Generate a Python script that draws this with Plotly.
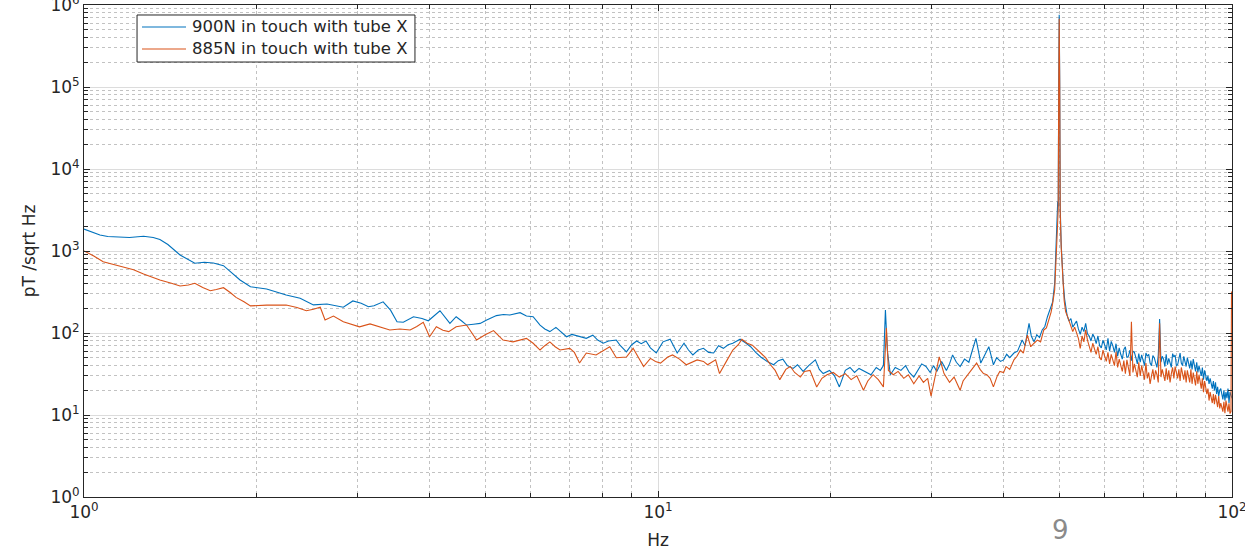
import plotly.graph_objects as go

# ---- 900N in touch with tube X: amplitude spectral density below 51.6 Hz ----
freq_900_lo = [
    1.00, 1.03, 1.066, 1.10, 1.15, 1.20, 1.27, 1.32, 1.356, 1.40, 1.47, 1.52, 1.56, 1.62, 1.68,
    1.75, 1.80, 1.87, 1.95, 2.08, 2.15, 2.25, 2.38, 2.51, 2.65, 2.75, 2.83, 2.94, 3.04, 3.13,
    3.20, 3.32, 3.42, 3.51, 3.60, 3.75, 3.88, 3.98, 4.08, 4.17, 4.34, 4.45, 4.55, 4.64, 4.77,
    4.90, 5.03, 5.23, 5.38, 5.52, 5.75, 5.90, 6.06, 6.23, 6.35, 6.48, 6.64, 6.80, 6.93, 7.08,
    7.22, 7.38, 7.50, 7.70, 7.85, 8.03, 8.20, 8.46, 8.60, 8.81, 9.00, 9.18, 9.35, 9.53, 9.70,
    9.93, 10.2, 10.5, 10.8, 11.1, 11.3, 11.5, 11.75, 12.0, 12.25, 12.5, 12.75, 13.0, 13.25, 13.5,
    13.7, 13.9, 14.2, 14.5, 14.8, 15.1, 15.5, 15.9, 16.2, 16.5, 16.8, 17.2, 17.5, 17.9, 18.3,
    18.8, 19.1, 19.4, 19.9, 20.3, 20.7, 21.2, 21.6, 22.0, 22.4, 22.9, 23.5, 24.0, 24.4, 24.7,
    24.9, 25.1, 25.4, 25.9, 26.5, 27.0, 27.4, 27.9, 28.4, 28.8, 29.3, 29.8, 30.2, 30.6, 31.2,
    31.8, 32.2, 32.6, 33.1, 33.6, 34.2, 34.8, 35.3, 35.8, 36.2, 36.5, 37.0, 37.7, 38.0, 38.4,
    38.9, 39.5, 40.0, 40.5, 41.0, 41.7, 42.3, 43.1, 43.6, 44.0, 44.3, 44.7, 45.2, 45.7, 46.2,
    46.7, 47.2, 47.7, 48.2, 48.7, 49.1, 49.5, 49.7, 49.8, 49.9, 50.0, 50.1, 50.2, 50.4, 50.6,
    50.8, 51.1, 51.5,
]
psd_900_lo = [
    1850, 1700, 1570, 1500, 1480, 1460, 1515, 1460, 1380, 1200, 895, 790, 708, 728, 715,
    662, 560, 443, 367, 344, 320, 290, 265, 220, 226, 215, 206, 246, 230, 209,
    215, 240, 190, 137, 135, 158, 150, 141, 165, 187, 131, 158, 140, 125, 128,
    131, 144, 163, 168, 166, 177, 161, 158, 125, 112, 104, 117, 100, 90, 96,
    93, 89, 86, 94, 82, 75, 80, 82, 70, 59, 72, 80, 74, 80, 66,
    57, 78, 84, 57, 75, 62, 54, 62, 65, 58, 57, 70, 65, 72, 75,
    80, 84, 76, 68, 58, 51, 45, 41, 46, 48, 40, 37, 41, 34, 40,
    47, 36, 32, 35, 30, 22, 35, 38, 33, 37, 34, 31, 38, 35, 40,
    191, 60, 31, 38, 35, 40, 33, 29, 36, 42, 39, 33, 40, 34, 45,
    35, 42, 54, 44, 39, 48, 44, 62, 86, 58, 43, 52, 68, 55, 41,
    50, 45, 47, 55, 50, 57, 60, 82, 70, 95, 131, 92, 78, 95, 88,
    109, 120, 158, 190, 240, 404, 1500, 4000, 3500, 110000, 760000, 120000, 3500, 1200, 600,
    422, 260, 174,
]

# ---- 885N in touch with tube X: amplitude spectral density below 51.6 Hz ----
freq_885_lo = [
    1.00, 1.04, 1.08, 1.12, 1.17, 1.22, 1.27, 1.31, 1.356, 1.42, 1.47, 1.52, 1.56, 1.61, 1.66,
    1.70, 1.75, 1.80, 1.84, 1.90, 1.95, 2.08, 2.25, 2.35, 2.44, 2.51, 2.58, 2.63, 2.72, 2.83,
    2.92, 3.02, 3.15, 3.27, 3.41, 3.55, 3.70, 3.80, 3.90, 4.00, 4.11, 4.22, 4.32, 4.45, 4.64,
    4.74, 4.83, 5.00, 5.17, 5.28, 5.37, 5.59, 5.75, 5.90, 6.06, 6.23, 6.35, 6.48, 6.62, 6.75,
    7.02, 7.15, 7.30, 7.50, 7.80, 8.00, 8.24, 8.46, 8.81, 9.05, 9.25, 9.44, 9.70, 9.90, 10.1,
    10.4, 10.6, 10.9, 11.2, 11.5, 11.7, 12.0, 12.2, 12.6, 12.8, 13.2, 13.5, 13.8, 14.0, 14.3,
    14.6, 15.1, 15.4, 15.7, 16.0, 16.3, 16.7, 17.0, 17.3, 17.7, 18.0, 18.4, 18.9, 19.3, 19.7,
    20.2, 20.7, 21.2, 21.7, 22.2, 22.8, 23.2, 23.7, 24.2, 24.7, 25.0, 25.2, 25.7, 26.2, 26.8,
    27.3, 27.9, 28.5, 29.0, 29.5, 29.9, 30.4, 30.9, 31.5, 32.2, 32.8, 33.6, 34.0, 34.4, 35.0,
    35.9, 36.4, 36.9, 37.4, 37.9, 38.4, 39.0, 39.4, 40.0, 40.4, 41.0, 41.7, 42.2, 42.8, 43.3,
    44.0, 44.6, 45.2, 45.8, 46.4, 47.0, 47.5, 48.0, 48.4, 48.7, 49.1, 49.5, 49.7, 49.8, 49.9,
    50.0, 50.1, 50.2, 50.4, 50.6, 50.8, 51.0, 51.3,
]
psd_885_lo = [
    1000, 870, 740, 690, 645, 590, 525, 480, 443, 405, 374, 385, 404, 360, 328,
    340, 357, 310, 272, 240, 214, 219, 219, 205, 187, 195, 206, 144, 161, 137,
    128, 119, 129, 119, 109, 112, 109, 120, 135, 90, 119, 108, 104, 119, 125,
    100, 82, 95, 107, 92, 82, 78, 82, 86, 75, 62, 70, 78, 68, 62,
    65, 58, 43, 57, 54, 60, 68, 50, 51, 65, 50, 39, 49, 45, 43,
    51, 54, 48, 41, 44, 47, 45, 41, 47, 32, 47, 62, 72, 84, 75,
    71, 57, 50, 41, 35, 27, 36, 39, 33, 29, 34, 35, 22, 28, 31,
    33, 29, 32, 27, 30, 20, 26, 31, 27, 22, 115, 35, 31, 34, 28,
    31, 24, 30, 25, 28, 17, 30, 51, 32, 25, 29, 20, 26, 29, 33,
    43, 36, 32, 31, 28, 22, 30, 34, 33, 39, 36, 47, 52, 62, 57,
    94, 68, 75, 82, 78, 109, 115, 144, 180, 230, 335, 1200, 3000, 3200, 90000,
    680000, 100000, 3000, 1100, 550, 404, 250, 182,
]

# ---- shared frequency bins above the 50 Hz line ----
freq_hi = [
    51.6, 52.0, 52.4, 52.8, 53.2, 53.6, 54.0, 54.4, 54.8, 55.2,
    55.6, 56.0, 56.4, 56.8, 57.2, 57.6, 58.0, 58.4, 58.8, 59.2,
    59.6, 60.0, 60.4, 60.8, 61.2, 61.6, 62.0, 62.4, 62.8, 63.2,
    63.6, 64.0, 64.4, 64.8, 65.2, 65.6, 66.0, 66.4, 66.8, 67.2,
    67.6, 68.0, 68.4, 68.8, 69.2, 69.6, 70.0, 70.4, 70.8, 71.2,
    71.6, 72.0, 72.4, 72.8, 73.2, 73.6, 74.0, 74.4, 74.8, 75.2,
    75.6, 76.0, 76.4, 76.8, 77.2, 77.6, 78.0, 78.4, 78.8, 79.2,
    79.6, 80.0, 80.4, 80.8, 81.2, 81.6, 82.0, 82.4, 82.8, 83.2,
    83.6, 84.0, 84.4, 84.8, 85.2, 85.6, 86.0, 86.4, 86.8, 87.2,
    87.6, 88.0, 88.4, 88.8, 89.2, 89.6, 90.0, 90.4, 90.8, 91.2,
    91.6, 92.0, 92.4, 92.8, 93.2, 93.6, 94.0, 94.4, 94.8, 95.2,
    95.6, 96.0, 96.4, 96.8, 97.2, 97.6, 98.0, 98.4, 98.8, 99.2, 99.6,
]
psd_900_hi = [
    165, 140, 150, 118, 128, 140, 112, 96, 118, 104,
    131, 98, 92, 80, 97, 88, 74, 92, 70, 66,
    82, 72, 62, 86, 60, 79, 70, 58, 74, 52,
    66, 55, 48, 63, 68, 50, 52, 62, 46, 60,
    58, 50, 42, 56, 44, 54, 48, 40, 57, 52,
    55, 43, 40, 53, 50, 42, 38, 54, 148, 44,
    52, 48, 39, 55, 41, 49, 44, 38, 56, 51,
    54, 40, 41, 50, 57, 43, 40, 52, 46, 39,
    50, 44, 37, 46, 36, 48, 41, 34, 44, 33,
    40, 35, 30, 38, 27, 35, 31, 26, 30, 24,
    28, 23, 21, 26, 20, 25, 18, 22, 17, 20,
    21, 18, 15.5, 20, 15, 19, 16, 21, 14, 19, 17,
]
psd_885_hi = [
    165, 142, 128, 104, 118, 100, 86, 65, 92, 78,
    109, 82, 70, 58, 75, 64, 55, 68, 50, 47,
    62, 52, 45, 58, 42, 55, 47, 40, 59, 38,
    48, 40, 34, 46, 32, 47, 38, 30, 137, 33,
    42, 36, 29, 44, 30, 40, 34, 27, 43, 28,
    33, 24, 30, 36, 27, 35, 31, 25, 131, 29,
    36, 31, 26, 37, 27, 35, 25, 32, 38, 28,
    39, 33, 28, 36, 26, 38, 31, 27, 35, 25,
    35, 29, 25, 36, 24, 33, 28, 23, 34, 24,
    31, 26, 21, 28, 19, 26, 22, 18, 21, 15,
    19, 16, 14, 18, 13.5, 17.6, 15, 12.5, 17, 12,
    14, 12, 11, 14.5, 10.5, 15, 12, 11, 13.9, 10.4, 11,
]

# ---- last bins of each record ----
freq_900_end = [100.0]
psd_900_end = [16]
freq_885_end = [99.8]
psd_885_end = [320]

series_names = ["900N in touch with tube X", "885N in touch with tube X"]
series_colors = ["#0072BD", "#D95319"]

x_ticks = [1, 10, 100]
x_tick_text = ["10<sup>0</sup>", "10<sup>1</sup>", "10<sup>2</sup>"]
y_ticks = [1, 10, 100, 1000, 1e4, 1e5, 1e6]
y_tick_text = [f"10<sup>{k}</sup>" for k in range(7)]

# minor ticks at 2..9 within every decade
x_minor = [m * 10 ** d for d in range(2) for m in range(2, 10)]
y_minor = [m * 10 ** d for d in range(6) for m in range(2, 10)]

font_family = "DejaVu Sans"
text_color = "#262626"

freq_900 = freq_900_lo + freq_hi + freq_900_end
psd_900 = psd_900_lo + psd_900_hi + psd_900_end
freq_885 = freq_885_lo + freq_hi + freq_885_end
psd_885 = psd_885_lo + psd_885_hi + psd_885_end

fig = go.Figure()
fig.add_trace(go.Scatter(x=freq_900, y=psd_900, mode="lines", name=series_names[0],
                         line=dict(color=series_colors[0], width=1.1), showlegend=False))
fig.add_trace(go.Scatter(x=freq_885, y=psd_885, mode="lines", name=series_names[1],
                         line=dict(color=series_colors[1], width=1.1), showlegend=False))


def axis_style(minor_vals):
    return dict(
        type="log",
        showline=True, linecolor=text_color, linewidth=1, mirror="ticks",
        ticks="inside", ticklen=6, tickcolor=text_color,
        showgrid=True, gridcolor="#dcdcdc", gridwidth=1,
        zeroline=False, ticklabeloverflow="allow", automargin=False,
        tickfont=dict(family=font_family, size=17, color=text_color),
        minor=dict(tickvals=minor_vals, ticks="inside", ticklen=4, tickcolor=text_color,
                   showgrid=True, gridcolor="#c2c2c2", griddash="dot", gridwidth=1),
    )


fig.update_xaxes(range=[0, 2], tickvals=x_ticks, ticktext=x_tick_text,
                 title=dict(text="Hz", font=dict(family=font_family, size=17, color=text_color),
                            standoff=12),
                 **axis_style(x_minor))
fig.update_yaxes(range=[0, 6], tickvals=y_ticks, ticktext=y_tick_text,
                 title=dict(text="pT /sqrt Hz", font=dict(family=font_family, size=17, color=text_color),
                            standoff=10),
                 **axis_style(y_minor))

# legend box in the upper-left corner of the axes (paper coordinates)
legend_box = dict(x0=0.0462, x1=0.2883, y0=0.8841, y1=0.9797)
legend_rows = [0.9553, 0.9106]
fig.add_shape(type="rect", xref="paper", yref="paper", **legend_box,
              line=dict(color=text_color, width=1), fillcolor="white", layer="above")
for name, color, row in zip(series_names, series_colors, legend_rows):
    fig.add_shape(type="line", xref="paper", yref="paper", x0=0.0505, x1=0.0889, y0=row, y1=row,
                  line=dict(color=color, width=1.1), layer="above")
    fig.add_annotation(text=name, xref="paper", yref="paper", x=0.0923, y=row,
                       xanchor="left", yanchor="middle", showarrow=False,
                       font=dict(family=font_family, size=16.5, color=text_color))

fig.add_annotation(text="9", xref="paper", yref="paper", x=0.851, y=-0.067,
                   xanchor="center", yanchor="middle", showarrow=False,
                   font=dict(family=font_family, size=26, color="#8a8a8a"))

fig.update_layout(
    width=1245, height=551,
    margin=dict(l=84, r=13, t=5, b=54),
    paper_bgcolor="white", plot_bgcolor="white",
    font=dict(family=font_family, color=text_color),
    showlegend=False,
)

fig.write_html("out.html")
